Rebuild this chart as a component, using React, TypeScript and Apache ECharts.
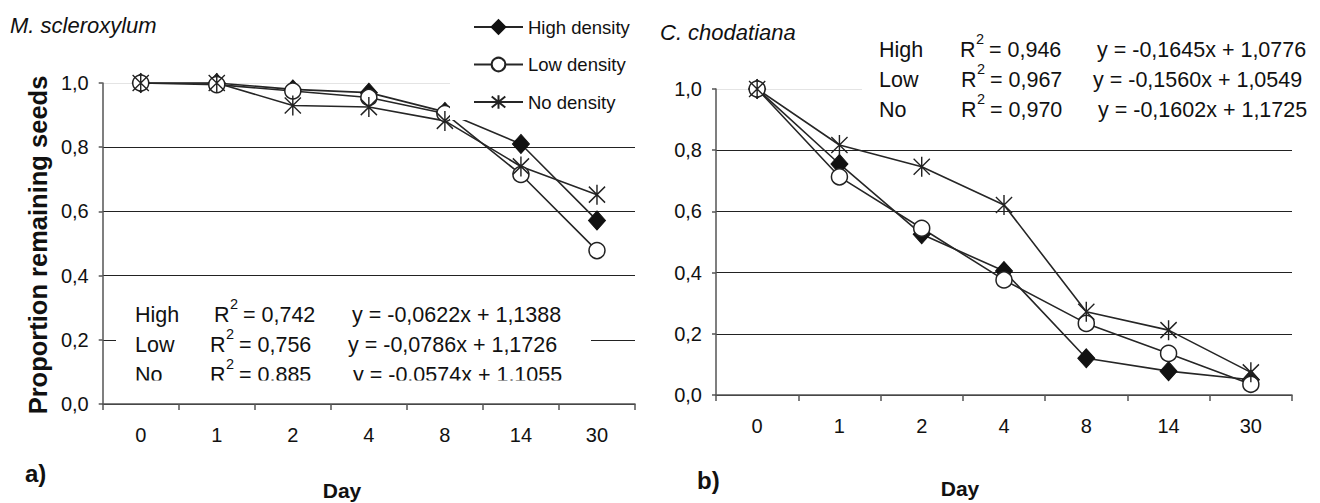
import React, { useEffect, useRef } from "react";
import * as echarts from "echarts";

// ---------- data ----------
const days = ["0", "1", "2", "4", "8", "14", "30"];
const yTickLabels = ["0,0", "0,2", "0,4", "0,6", "0,8", "1,0"];
const seriesNames = ["High density", "Low density", "No density"];

// a) M. scleroxylum
const mHigh = [1.0, 1.0, 0.98, 0.97, 0.91, 0.81, 0.572];
const mLow = [1.0, 0.995, 0.975, 0.955, 0.905, 0.715, 0.478];
const mNo = [1.0, 1.0, 0.93, 0.925, 0.882, 0.74, 0.652];

// b) C. chodatiana
const cHigh = [1.0, 0.755, 0.525, 0.405, 0.12, 0.078, 0.05];
const cLow = [1.0, 0.713, 0.545, 0.376, 0.234, 0.136, 0.035];
const cNo = [1.0, 0.817, 0.746, 0.621, 0.272, 0.212, 0.074];

const eqLabels = ["High", "Low", "No"];
const mR2 = ["0,742", "0,756", "0,885"];
const mEq = ["y = -0,0622x + 1,1388", "y = -0,0786x + 1,1726", "y = -0,0574x + 1,1055"];
const cR2 = ["0,946", "0,967", "0,970"];
const cEq = ["y = -0,1645x + 1,0776", "y = -0,1560x + 1,0549", "y = -0,1602x + 1,1725"];

// ---------- styles ----------
const NARROW = "'Liberation Sans Narrow', 'Arial Narrow', 'Liberation Sans', Arial, sans-serif";
const SANS = "'Liberation Sans', Arial, sans-serif";
const LINE = "#262626";
const AXIS = "#555";

const STAR = "path://M9,0 L9,20 M0,2 L18,18 M0,18 L18,2";

function series(name: string, data: number[], idx: number) {
  const base: any = {
    type: "line",
    name,
    data,
    xAxisIndex: idx,
    yAxisIndex: idx,
    showAllSymbol: true,
    lineStyle: { color: LINE, width: 1.6 },
    emphasis: { disabled: true },
    silent: true,
  };
  if (name === "High density") {
    base.symbol = "diamond";
    base.symbolSize = [17, 19];
    base.itemStyle = { color: "#111", borderColor: "#111", borderWidth: 1 };
  } else if (name === "Low density") {
    base.symbol = "circle";
    base.symbolSize = 16;
    base.itemStyle = { color: "#fff", borderColor: "#222", borderWidth: 1.5 };
  } else {
    base.symbol = STAR;
    base.symbolSize = [18, 20];
    base.symbolKeepAspect = true;
    base.itemStyle = { color: "#222", borderColor: "#222", borderWidth: 1.5 };
  }
  return base;
}

function yAxis(gridIndex: number) {
  return {
    type: "value",
    gridIndex,
    min: 0,
    max: 1,
    interval: 0.2,
    axisLine: { show: true, lineStyle: { color: AXIS, width: 1.5 } },
    axisTick: { show: true, length: 4, lineStyle: { color: AXIS, width: 1.5 } },
    axisLabel: {
      formatter: (v: number) => yTickLabels[Math.round(v / 0.2)],
      fontFamily: NARROW,
      fontSize: 20,
      color: "#111",
      margin: 14,
    },
    splitLine: {
      show: true,
      lineStyle: { color: ["#222", "#222", "#222", "#222", "#222", "#e4e4e4"], width: 1 },
    },
  };
}

function xAxis(gridIndex: number) {
  return {
    type: "category",
    gridIndex,
    data: days,
    boundaryGap: true,
    axisLine: { show: true, lineStyle: { color: AXIS, width: 1.5 } },
    axisTick: { show: true, length: 6, interval: 0, lineStyle: { color: AXIS, width: 1.5 } },
    axisLabel: { fontFamily: NARROW, fontSize: 20, color: "#111", margin: 21, interval: 0 },
    splitLine: { show: false },
  };
}

function txt(text: string, x: number, y: number, font: string, align = "left", extra: any = {}) {
  return {
    type: "text",
    x,
    y,
    z: 20,
    silent: true,
    style: { text, font, fill: "#111", align, verticalAlign: "middle" },
    ...extra,
  };
}

function eqBlock(
  r2: string[],
  eq: string[],
  labelX: number,
  rX: number[],
  eqX: number[],
  rowY: number[]
) {
  const out: any[] = [];
  const f = `21.5px ${SANS}`;
  for (let i = 0; i < 3; i++) {
    out.push(txt(eqLabels[i], labelX, rowY[i], f));
    out.push(txt("R", rX[i], rowY[i], f));
    out.push(txt("2", rX[i] + 16, rowY[i] - 11, `14.5px ${SANS}`));
    out.push(txt("= " + r2[i], rX[i] + 29, rowY[i], f));
    out.push(txt(eq[i], eqX[i], rowY[i], f));
  }
  return out;
}

export default function App() {
  const ref = useRef<HTMLDivElement>(null);
  useEffect(() => {
    if (!ref.current) return;
    const chart = echarts.init(ref.current, undefined, { renderer: "svg" });
    const graphic: any[] = [
      // white box behind left equations (hides part of 0,2 grid line)
      { type: "rect", z: 10, silent: true, shape: { x: 116, y: 294, width: 475, height: 87 }, style: { fill: "#fff" } },
      // white box behind right equations
      { type: "rect", z: 10, silent: true, shape: { x: 862, y: 28, width: 450, height: 96 }, style: { fill: "#fff" } },
      ...eqBlock(mR2, mEq, 135, [214, 210, 210], [352, 348, 353], [314.5, 344.5, 374.5]),
      ...eqBlock(cR2, cEq, 879, [960, 961, 961], [1097, 1093, 1098], [49.5, 79.5, 109.5]),
      // clip of the last row of left block
      { type: "rect", z: 30, silent: true, shape: { x: 116, y: 380.5, width: 475, height: 17 }, style: { fill: "#fff" } },
      txt("M. scleroxylum", 10, 25, `italic 22px ${SANS}`),
      txt("C. chodatiana", 660, 32, `italic 22px ${SANS}`),
      txt("Proportion remaining seeds", 38, 245, `bold 25.5px ${SANS}`, "center", { rotation: Math.PI / 2 }),
      txt("Day", 342, 490, `bold 21px ${SANS}`, "center"),
      txt("Day", 960, 488, `bold 21px ${SANS}`, "center"),
      txt("a)", 25, 473, `bold 24px ${SANS}`),
      txt("b)", 697, 480, `bold 24px ${SANS}`),
    ];

    chart.setOption({
      animation: false,
      backgroundColor: "#fff",
      grid: [
        { left: 102.7, top: 83, width: 532.3, height: 321 },
        { left: 716, top: 89, width: 576, height: 306 },
      ],
      xAxis: [xAxis(0), xAxis(1)],
      yAxis: [yAxis(0), yAxis(1)],
      legend: {
        data: seriesNames,
        orient: "vertical",
        left: 450,
        top: 7,
        itemWidth: 49,
        itemHeight: 17,
        itemGap: 17.5,
        padding: [10, 12, 8, 23],
        backgroundColor: "#fff",
        selectedMode: false,
        textStyle: { fontFamily: NARROW, fontSize: 18.5, color: "#111", lineHeight: 20 },
      },
      series: [
        series("High density", mHigh, 0),
        series("Low density", mLow, 0),
        series("No density", mNo, 0),
        series("High density", cHigh, 1),
        series("Low density", cLow, 1),
        series("No density", cNo, 1),
      ],
      graphic,
    });
    return () => chart.dispose();
  }, []);
  return (
    <div
      ref={ref}
      style={{ position: "fixed", left: 0, top: 0, width: 1320, height: 503, background: "#fff" }}
    />
  );
}
